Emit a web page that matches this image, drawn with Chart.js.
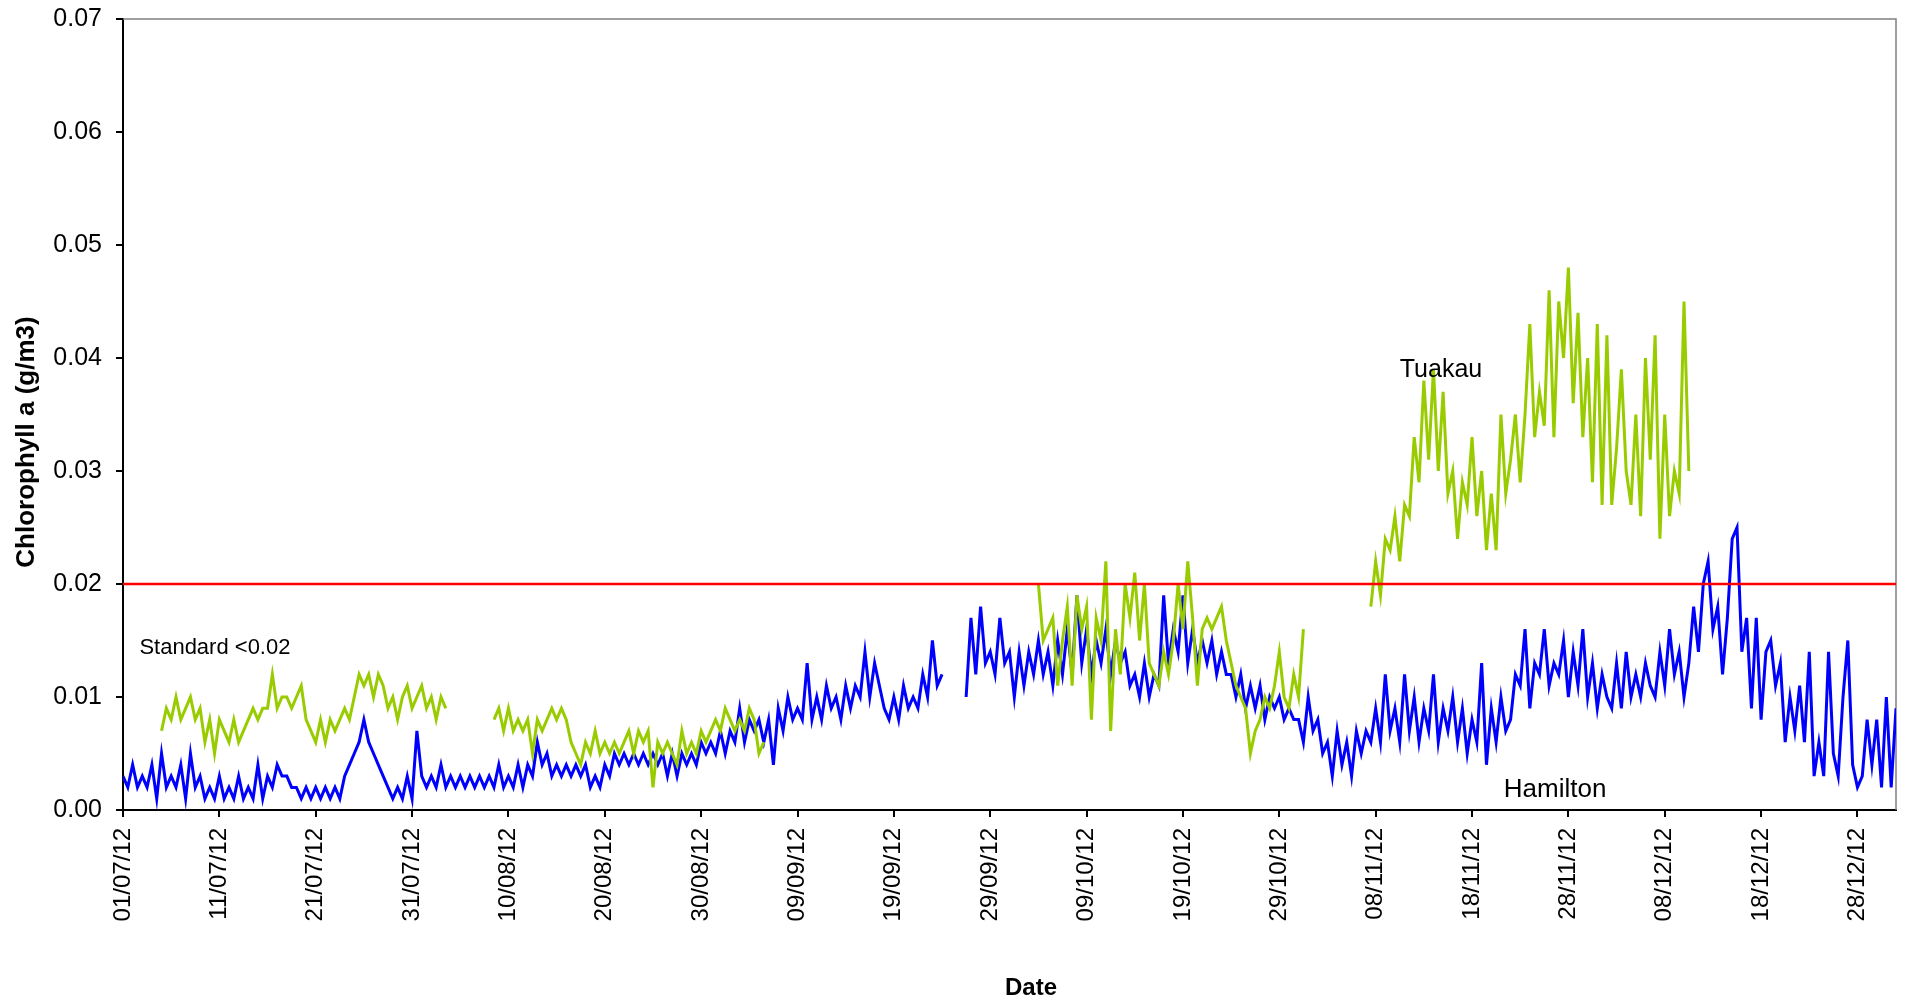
<!DOCTYPE html>
<html>
<head>
<meta charset="utf-8">
<title>Chlorophyll a - Hamilton and Tuakau</title>
<script src="https://cdn.jsdelivr.net/npm/chart.js@4.4.1/dist/chart.umd.min.js"></script>
<style>
  html, body { margin: 0; padding: 0; background: #fff; }
</style>
</head>
<body>
<canvas id="chlChart" width="1906" height="1001"></canvas>
<script>
// x axis runs in days since 01/07/12, one reading every half day
const stepDays = 0.5;
const xMaxDay = 184;
const standardLevel = 0.02;

const tickDays = [0, 10, 20, 30, 40, 50, 60, 70, 80, 90, 100, 110, 120, 130, 140, 150, 160, 170, 180];
const tickLabels = ['01/07/12', '11/07/12', '21/07/12', '31/07/12', '10/08/12', '20/08/12', '30/08/12',
  '09/09/12', '19/09/12', '29/09/12', '09/10/12', '19/10/12', '29/10/12', '08/11/12', '18/11/12',
  '28/11/12', '08/12/12', '18/12/12', '28/12/12'];

// Hamilton, starts day 0 (g/m3)
const hamilton = [
  0.003,0.002, 0.004,0.002, 0.003,0.002, 0.004,0.001, 0.005,0.002, 0.003,0.002, 0.004,0.001, 0.005,0.002, 0.003,0.001, 0.002,0.001,
  0.003,0.001, 0.002,0.001, 0.003,0.001, 0.002,0.001, 0.004,0.001, 0.003,0.002, 0.004,0.003, 0.003,0.002, 0.002,0.001, 0.002,0.001,
  0.002,0.001, 0.002,0.001, 0.002,0.001, 0.003,0.004, 0.005,0.006, 0.008,0.006, 0.005,0.004, 0.003,0.002, 0.001,0.002, 0.001,0.003,
  0.001,0.007, 0.003,0.002, 0.003,0.002, 0.004,0.002, 0.003,0.002, 0.003,0.002, 0.003,0.002, 0.003,0.002, 0.003,0.002, 0.004,0.002,
  0.003,0.002, 0.004,0.002, 0.004,0.003, 0.006,0.004, 0.005,0.003, 0.004,0.003, 0.004,0.003, 0.004,0.003, 0.004,0.002, 0.003,0.002,
  0.004,0.003, 0.005,0.004, 0.005,0.004, 0.005,0.004, 0.005,0.004, 0.005,0.004, 0.005,0.003, 0.005,0.003, 0.005,0.004, 0.005,0.004,
  0.006,0.005, 0.006,0.005, 0.007,0.005, 0.007,0.006, 0.009,0.006, 0.008,0.007, 0.008,0.006, 0.008,0.004, 0.009,0.007, 0.010,0.008,
  0.009,0.008, 0.013,0.008, 0.010,0.008, 0.011,0.009, 0.010,0.008, 0.011,0.009, 0.011,0.010, 0.014,0.010, 0.013,0.011, 0.009,0.008,
  0.010,0.008, 0.011,0.009, 0.010,0.009, 0.012,0.010, 0.015,0.011, 0.012,null, null,null, null,0.010, 0.017,0.012, 0.018,0.013,
  0.014,0.012, 0.017,0.013, 0.014,0.010, 0.014,0.011, 0.014,0.012, 0.015,0.012, 0.014,0.011, 0.015,0.012, 0.016,0.012, 0.019,0.013,
  0.016,0.012, 0.015,0.013, 0.016,0.012, 0.015,0.013, 0.014,0.011, 0.012,0.010, 0.013,0.010, 0.012,0.011, 0.019,0.013, 0.016,0.014,
  0.019,0.013, 0.016,0.013, 0.015,0.013, 0.015,0.012, 0.014,0.012, 0.012,0.010, 0.012,0.009, 0.011,0.009, 0.011,0.008, 0.010,0.009,
  0.010,0.008, 0.009,0.008, 0.008,0.006, 0.010,0.007, 0.008,0.005, 0.006,0.003, 0.007,0.004, 0.006,0.003, 0.007,0.005, 0.007,0.006,
  0.009,0.006, 0.012,0.007, 0.009,0.006, 0.012,0.007, 0.010,0.006, 0.009,0.007, 0.012,0.006, 0.009,0.007, 0.010,0.006, 0.009,0.005,
  0.008,0.006, 0.013,0.004, 0.009,0.006, 0.010,0.007, 0.008,0.012, 0.011,0.016, 0.009,0.013, 0.012,0.016, 0.011,0.013, 0.012,0.015,
  0.010,0.014, 0.011,0.016, 0.010,0.013, 0.009,0.012, 0.010,0.009, 0.013,0.009, 0.014,0.010, 0.012,0.010, 0.013,0.011, 0.010,0.014,
  0.011,0.016, 0.012,0.014, 0.010,0.013, 0.018,0.014, 0.020,0.022, 0.016,0.018, 0.012,0.017, 0.024,0.025, 0.014,0.017, 0.009,0.017,
  0.008,0.014, 0.015,0.011, 0.013,0.006, 0.010,0.007, 0.011,0.006, 0.014,0.003, 0.006,0.003, 0.014,0.005, 0.003,0.010, 0.015,0.004,
  0.002,0.003, 0.008,0.004, 0.008,0.002, 0.010,0.002, 0.009
];

// Tuakau, four logged runs with gaps between them (g/m3)
const tuakauStarts = [4, 38.5, 95, 129.5];
const tuakauJul = [
  0.007,0.009, 0.008,0.010, 0.008,0.009, 0.010,0.008, 0.009,0.006, 0.008,0.005, 0.008,0.007, 0.006,0.008, 0.006,0.007, 0.008,0.009,
  0.008,0.009, 0.009,0.012, 0.009,0.010, 0.010,0.009, 0.010,0.011, 0.008,0.007, 0.006,0.008, 0.006,0.008, 0.007,0.008, 0.009,0.008,
  0.010,0.012, 0.011,0.012, 0.010,0.012, 0.011,0.009, 0.010,0.008, 0.010,0.011, 0.009,0.010, 0.011,0.009, 0.010,0.008, 0.010,0.009
];
const tuakauAug = [
  0.008,
  0.009,0.007, 0.009,0.007, 0.008,0.007, 0.008,0.005, 0.008,0.007, 0.008,0.009, 0.008,0.009, 0.008,0.006, 0.005,0.004, 0.006,0.005,
  0.007,0.005, 0.006,0.005, 0.006,0.005, 0.006,0.007, 0.005,0.007, 0.006,0.007, 0.002,0.006, 0.005,0.006, 0.005,0.004, 0.007,0.005,
  0.006,0.005, 0.007,0.006, 0.007,0.008, 0.007,0.009, 0.008,0.007, 0.008,0.007, 0.009,0.008, 0.005,0.006
];
const tuakauOct = [
  0.020,0.015, 0.016,0.017, 0.011,0.015, 0.018,0.011, 0.019,0.016, 0.018,0.008, 0.017,0.015, 0.022,0.007, 0.016,0.012, 0.020,0.017,
  0.021,0.015, 0.020,0.013, 0.012,0.011, 0.014,0.012, 0.015,0.020, 0.016,0.022, 0.017,0.011, 0.016,0.017, 0.016,0.017, 0.018,0.015,
  0.013,0.011, 0.010,0.009, 0.005,0.007, 0.008,0.010, 0.009,0.011, 0.014,0.010, 0.009,0.012, 0.010,0.016
];
const tuakauNov = [
  0.018,
  0.022,0.019, 0.024,0.023, 0.026,0.022, 0.027,0.026, 0.033,0.029, 0.038,0.031, 0.039,0.030, 0.037,0.028, 0.030,0.024, 0.029,0.027,
  0.033,0.026, 0.030,0.023, 0.028,0.023, 0.035,0.028, 0.031,0.035, 0.029,0.035, 0.043,0.033, 0.037,0.034, 0.046,0.033, 0.045,0.040,
  0.048,0.036, 0.044,0.033, 0.040,0.029, 0.043,0.027, 0.042,0.027, 0.032,0.039, 0.030,0.027, 0.035,0.026, 0.040,0.031, 0.042,0.024,
  0.035,0.026, 0.030,0.028, 0.045,0.030
];
const tuakauRuns = [tuakauJul, tuakauAug, tuakauOct, tuakauNov];

const noteLabels = [
  { text: 'Standard <0.02', day: 1.7, value: 0.0143, size: 22 },
  { text: 'Tuakau', day: 132.5, value: 0.0389, size: 25 },
  { text: 'Hamilton', day: 143.3, value: 0.0018, size: 26 }
];

const fontFamily = '"Liberation Sans", Arial, sans-serif';

function toPoints(start, values) {
  return values.map((v, i) => ({ x: start + i * stepDays, y: v }));
}

const hamiltonPoints = toPoints(0, hamilton);
const tuakauPoints = [];
tuakauRuns.forEach((run, k) => {
  if (k > 0) tuakauPoints.push({ x: tuakauStarts[k] - stepDays, y: null });
  tuakauPoints.push(...toPoints(tuakauStarts[k], run));
});

const chartNotes = {
  id: 'chartNotes',
  beforeDatasetsDraw(chart) {
    const { ctx, chartArea: a } = chart;
    ctx.save();
    ctx.strokeStyle = '#808080';
    ctx.lineWidth = 1.5;
    ctx.beginPath();
    ctx.moveTo(a.left, a.top);
    ctx.lineTo(a.right, a.top);
    ctx.lineTo(a.right, a.bottom);
    ctx.stroke();
    ctx.restore();
  },
  afterDraw(chart) {
    const { ctx, scales } = chart;
    ctx.save();
    ctx.fillStyle = '#000';
    ctx.textBaseline = 'middle';
    ctx.textAlign = 'left';
    noteLabels.forEach(n => {
      ctx.font = n.size + 'px ' + fontFamily;
      ctx.fillText(n.text, scales.x.getPixelForValue(n.day), scales.y.getPixelForValue(n.value));
    });
    ctx.textAlign = 'center';
    ctx.font = 'bold 24px ' + fontFamily;
    ctx.fillText('Date', 1031, 988);
    ctx.translate(27, 442);
    ctx.rotate(-Math.PI / 2);
    ctx.font = 'bold 26px ' + fontFamily;
    ctx.fillText('Chlorophyll a (g/m3)', 0, 0);
    ctx.restore();
  }
};

new Chart(document.getElementById('chlChart').getContext('2d'), {
  type: 'line',
  data: {
    datasets: [
      {
        label: 'Standard',
        data: [{ x: 0, y: standardLevel }, { x: xMaxDay, y: standardLevel }],
        borderColor: '#FF0000',
        borderWidth: 2.5,
        order: 0
      },
      {
        label: 'Tuakau',
        data: tuakauPoints,
        borderColor: '#99CC00',
        borderWidth: 3,
        spanGaps: false,
        order: 1
      },
      {
        label: 'Hamilton',
        data: hamiltonPoints,
        borderColor: '#0000FF',
        borderWidth: 3,
        spanGaps: false,
        order: 2
      }
    ]
  },
  options: {
    responsive: false,
    animation: false,
    devicePixelRatio: 1,
    layout: { padding: { top: 19, right: 10, bottom: 0, left: 0 } },
    elements: { point: { radius: 0 }, line: { tension: 0 } },
    plugins: { legend: { display: false }, tooltip: { enabled: false } },
    scales: {
      x: {
        type: 'linear',
        min: 0,
        max: xMaxDay,
        afterBuildTicks: scale => { scale.ticks = tickDays.map(d => ({ value: d })); },
        afterFit: scale => {
          scale.height = 191;
          scale.paddingLeft = 0;
          scale.paddingRight = 0;
        },
        grid: { drawOnChartArea: false, tickLength: 7, color: '#000', lineWidth: 2 },
        border: { color: '#000', width: 2 },
        ticks: {
          autoSkip: false,
          minRotation: 90,
          maxRotation: 90,
          padding: 11,
          color: '#000',
          font: { family: fontFamily, size: 24 },
          callback: value => tickLabels[tickDays.indexOf(value)]
        }
      },
      y: {
        min: 0,
        max: 0.07,
        afterFit: scale => {
          scale.width = 123;
          scale.paddingTop = 0;
          scale.paddingBottom = 0;
        },
        grid: { drawOnChartArea: false, tickLength: 7, color: '#000', lineWidth: 2 },
        border: { color: '#000', width: 2 },
        ticks: {
          stepSize: 0.01,
          padding: 14,
          color: '#000',
          font: { family: fontFamily, size: 25 },
          callback: value => value.toFixed(2)
        }
      }
    }
  },
  plugins: [chartNotes]
});
</script>
</body>
</html>
